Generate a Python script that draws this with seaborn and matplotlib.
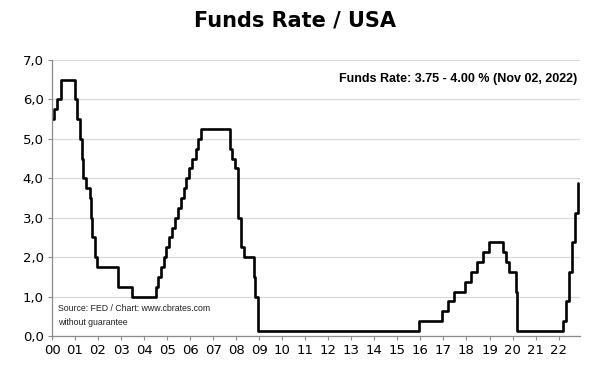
import pandas as pd
import numpy as np
import matplotlib
matplotlib.use('Agg')
import matplotlib.pyplot as plt
import seaborn as sns

# Fed funds target rate changes (midpoint of the target range after Dec 2008)
change_dates = [
    '2000-01-01', '2000-02-02', '2000-03-21', '2000-05-16',
    '2001-01-03', '2001-01-31', '2001-03-20', '2001-04-18', '2001-05-15',
    '2001-06-27', '2001-08-21', '2001-09-17', '2001-10-02', '2001-11-06',
    '2001-12-11', '2002-11-06', '2003-06-25',
    '2004-06-30', '2004-08-10', '2004-09-21', '2004-11-10', '2004-12-14',
    '2005-02-02', '2005-03-22', '2005-05-03', '2005-06-30', '2005-08-09',
    '2005-09-20', '2005-11-01', '2005-12-13',
    '2006-01-31', '2006-03-28', '2006-05-10', '2006-06-29',
    '2007-09-18', '2007-10-31', '2007-12-11',
    '2008-01-22', '2008-01-30', '2008-03-18', '2008-04-30', '2008-10-08',
    '2008-10-29', '2008-12-16',
    '2015-12-16', '2016-12-14',
    '2017-03-15', '2017-06-14', '2017-12-13',
    '2018-03-21', '2018-06-13', '2018-09-26', '2018-12-19',
    '2019-07-31', '2019-09-18', '2019-10-30',
    '2020-03-03', '2020-03-15',
    '2022-03-16', '2022-05-04', '2022-06-15', '2022-07-27', '2022-09-21',
    '2022-11-02',
]
rates = [
    5.50, 5.75, 6.00, 6.50,
    6.00, 5.50, 5.00, 4.50, 4.00,
    3.75, 3.50, 3.00, 2.50, 2.00,
    1.75, 1.25, 1.00,
    1.25, 1.50, 1.75, 2.00, 2.25,
    2.50, 2.75, 3.00, 3.25, 3.50,
    3.75, 4.00, 4.25,
    4.50, 4.75, 5.00, 5.25,
    4.75, 4.50, 4.25,
    3.50, 3.00, 2.25, 2.00, 1.50,
    1.00, 0.125,
    0.375, 0.625,
    0.875, 1.125, 1.375,
    1.625, 1.875, 2.125, 2.375,
    2.125, 1.875, 1.625,
    1.125, 0.125,
    0.375, 0.875, 1.625, 2.375, 3.125,
    3.875,
]
years = list(range(2000, 2023))
year_labels = [f'{y % 100:02d}' for y in years]
y_ticks = [0, 1, 2, 3, 4, 5, 6, 7]
y_labels = [f'{v},0' for v in y_ticks]


def main():
    dates = pd.to_datetime(change_dates)
    df = pd.DataFrame({
        'x': dates.year + (dates.dayofyear - 1) / np.where(dates.is_leap_year, 366, 365),
        'rate': rates,
    })

    sns.set_theme(style='white')
    plt.rcParams['font.family'] = ['DejaVu Sans']
    plt.rcParams['text.color'] = 'black'

    fig = plt.figure(figsize=(5.91, 3.66), dpi=100)
    ax = fig.add_axes([0.088, 0.082, 0.893, 0.754])

    sns.lineplot(x='x', y='rate', data=df, ax=ax, color='black',
                 linewidth=1.9, drawstyle='steps-post')

    ax.set_xlim(2000, 2022.92)
    ax.set_ylim(0, 7)
    ax.set_xticks(years)
    ax.set_xticklabels(year_labels, fontsize=9.5)
    ax.set_yticks(y_ticks)
    ax.set_yticklabels(y_labels, fontsize=9.5)
    ax.set_xlabel('')
    ax.set_ylabel('')
    ax.grid(axis='y', color='#d9d9d9', linewidth=0.9)
    ax.set_axisbelow(True)
    for side in ['top', 'right']:
        ax.spines[side].set_visible(False)
    for side in ['left', 'bottom']:
        ax.spines[side].set_color('#8c8c8c')
        ax.spines[side].set_linewidth(0.9)
    ax.tick_params(axis='both', which='major', length=3, width=0.8,
                   color='#8c8c8c', labelcolor='black', direction='out', pad=3,
                   bottom=True, left=True)

    fig.text(0.5, 0.945, 'Funds Rate / USA', ha='center', va='center',
             fontsize=15, fontweight='bold', color='black')
    ax.text(0.995, 0.93, 'Funds Rate: 3.75 - 4.00 % (Nov 02, 2022)',
            transform=ax.transAxes, ha='right', va='center', color='black',
            fontsize=9, fontweight='bold', family='Liberation Sans')
    ax.text(0.012, 0.074, 'Source: FED / Chart: www.cbrates.com\nwithout guarantee',
            transform=ax.transAxes, ha='left', va='center', color='#222222',
            fontsize=6.3, family='Liberation Sans', linespacing=1.6)

    fig.savefig('out.png', dpi=100)


if __name__ == '__main__':
    main()
